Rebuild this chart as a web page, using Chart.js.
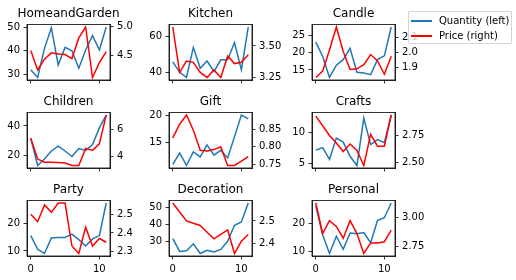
<!DOCTYPE html>
<html><head><meta charset="utf-8">
<script src="https://cdn.jsdelivr.net/npm/chart.js@4"></script>
<style>
body{margin:0;width:516px;height:280px;background:#fff;position:relative;overflow:hidden;font-family:"DejaVu Sans",sans-serif;}
canvas{position:absolute;}
.title{position:absolute;font-size:12px;line-height:12px;text-align:center;white-space:nowrap;color:#000;width:160px;}
#legend{position:absolute;left:408px;top:11px;width:104px;height:33px;box-sizing:border-box;border:1px solid rgba(204,204,204,0.8);border-radius:2px;background:rgba(255,255,255,0.8);z-index:10;font-size:10px;}
.lg-line{position:absolute;left:2px;width:21px;height:1.5px;}
.lg-text{position:absolute;left:30px;line-height:10px;white-space:nowrap;color:#000;}
</style></head>
<body>
<div id="legend">
  <div class="lg-line" style="top:8px;background:#1f77b4"></div><div class="lg-text" style="top:4px">Quantity (left)</div>
  <div class="lg-line" style="top:23px;background:#ff0000"></div><div class="lg-text" style="top:19px">Price (right)</div>
</div>
<script>
const categories = ["HomeandGarden","Kitchen","Candle","Children","Gift","Crafts","Party","Decoration","Personal"];
const xIndex = [0,1,2,3,4,5,6,7,8,9,10,11];
const xTickValues = [0,10];
const seriesNames = ["Quantity (left)","Price (right)"];

const qtyHomeandGarden = [32.0,28.7,41.0,49.7,34.0,41.4,40.0,32.6,40.3,46.4,40.3,50.0];
const priceHomeandGarden = [4.58,4.24,4.43,4.54,4.52,4.51,4.44,4.80,4.99,4.11,4.37,4.56];
const qtyKitchen = [46.0,40.4,37.4,54.0,42.5,46.5,40.7,47.2,47.2,56.7,41.6,65.3];
const priceKitchen = [3.65,3.29,3.38,3.37,3.29,3.25,3.31,3.25,3.42,3.36,3.37,3.43];
const qtyCandle = [23.1,19.0,12.8,16.4,18.0,21.3,14.3,14.1,13.6,18.0,19.1,27.5];
const priceCandle = [1.837,1.878,2.016,2.165,2.006,1.889,1.893,1.92,1.986,1.944,1.858,1.975];
const qtyChildren = [31.6,13.0,17.4,22.9,26.2,22.9,19.1,24.6,23.3,27.3,38.7,47.5];
const priceChildren = [5.35,3.78,3.54,3.54,3.52,3.49,3.30,3.30,4.58,4.43,4.92,7.08];
const qtyGift = [10.9,13.0,10.7,13.2,12.3,14.5,12.6,13.5,12.1,16.0,20.0,19.3];
const priceGift = [0.825,0.864,0.89,0.847,0.79,0.788,0.792,0.80,0.747,0.747,0.759,0.772];
const qtyCrafts = [7.1,7.5,5.6,9.05,8.4,6.1,4.6,12.3,8.0,8.8,8.3,12.8];
const priceCrafts = [2.93,2.84,2.75,2.68,2.60,2.67,2.61,2.47,2.76,2.65,2.65,2.94];
const qtyParty = [15.6,10.6,9.1,14.7,14.9,14.9,16.1,14.1,11.8,14.4,15.6,27.4];
const priceParty = [2.50,2.46,2.55,2.51,2.56,2.56,2.33,2.29,2.43,2.33,2.37,2.35];
const qtyDecoration = [31.5,23.9,24.3,28.4,22.7,24.6,23.6,25.1,29.9,39.4,41.3,52.5];
const priceDecoration = [2.58,2.54,2.50,2.49,2.48,2.45,2.42,2.44,2.46,2.355,2.41,2.44];
const qtyPersonal = [26.25,16.0,9.4,15.5,10.9,16.6,16.4,16.8,13.2,21.1,22.0,27.2];
const pricePersonal = [3.12,2.86,2.97,2.92,2.82,2.97,2.86,2.69,2.78,2.78,2.79,2.89];

const leftTicksHomeandGarden = ["30","40","50"];   const rightTicksHomeandGarden = ["4.5","5.0"];
const leftTicksKitchen = ["40","60"];              const rightTicksKitchen = ["3.25","3.50"];
const leftTicksCandle = ["15","20","25"];          const rightTicksCandle = ["1.9","2.0","2.1"];
const leftTicksChildren = ["20","40"];             const rightTicksChildren = ["4","6"];
const leftTicksGift = ["15","20"];                 const rightTicksGift = ["0.75","0.80","0.85"];
const leftTicksCrafts = ["5","10"];                const rightTicksCrafts = ["2.50","2.75"];
const leftTicksParty = ["10","20"];                const rightTicksParty = ["2.3","2.4","2.5"];
const leftTicksDecoration = ["30","40","50"];      const rightTicksDecoration = ["2.4","2.5"];
const leftTicksPersonal = ["10","20"];             const rightTicksPersonal = ["2.75","3.00"];

const panels = [
  [qtyHomeandGarden, priceHomeandGarden, leftTicksHomeandGarden, rightTicksHomeandGarden],
  [qtyKitchen, priceKitchen, leftTicksKitchen, rightTicksKitchen],
  [qtyCandle, priceCandle, leftTicksCandle, rightTicksCandle],
  [qtyChildren, priceChildren, leftTicksChildren, rightTicksChildren],
  [qtyGift, priceGift, leftTicksGift, rightTicksGift],
  [qtyCrafts, priceCrafts, leftTicksCrafts, rightTicksCrafts],
  [qtyParty, priceParty, leftTicksParty, rightTicksParty],
  [qtyDecoration, priceDecoration, leftTicksDecoration, rightTicksDecoration],
  [qtyPersonal, pricePersonal, leftTicksPersonal, rightTicksPersonal]
];

// layout
const colLeft = [27, 169, 312];
const rowTop = [23, 111, 199];
const PW = 83, PH = 57;
const LM = 30, RM = 44, TM = 8, BM = 22;

Chart.defaults.font.family = '"DejaVu Sans", sans-serif';
Chart.defaults.font.size = 10;
Chart.defaults.color = '#000';
Chart.defaults.animation = false;

const boxPlugin = {
  id: 'box',
  afterDraw(chart) {
    const a = chart.chartArea, ctx = chart.ctx;
    ctx.save();
    ctx.strokeStyle = '#000';
    ctx.lineWidth = 0.8;
    ctx.strokeRect(a.left, a.top, a.right - a.left, a.bottom - a.top);
    ctx.restore();
  }
};

function padRange(arr) {
  const mn = Math.min(...arr), mx = Math.max(...arr);
  const m = (mx - mn) * 0.05;
  return [mn - m, mx + m];
}

function yAxis(pos, labels, range, width) {
  const vals = labels.map(parseFloat);
  return {
    type: 'linear', position: pos, min: range[0], max: range[1],
    afterBuildTicks: s => { s.ticks = vals.map(v => ({value: v})); },
    afterFit: s => { s.width = width; },
    ticks: { padding: 3.5, color: '#000', font: {size: 10}, autoSkip: false,
      callback: (v) => { const i = vals.indexOf(v); return i >= 0 ? labels[i] : ''; } },
    grid: { drawOnChartArea: false, drawTicks: true, tickLength: 3.5, color: '#000', lineWidth: 0.8 },
    border: { display: true, color: '#000', width: 0.8 }
  };
}

const xMin = Math.min(...xIndex), xMax = Math.max(...xIndex);
const xm = (xMax - xMin) * 0.05;

panels.forEach((p, k) => {
  const r = Math.floor(k / 3), c = k % 3;
  const [qty, price, lt, rt] = p;
  const cv = document.createElement('canvas');
  const w = PW + LM + RM, h = PH + TM + BM;
  cv.width = w; cv.height = h;
  cv.style.width = w + 'px'; cv.style.height = h + 'px';
  cv.style.left = (colLeft[c] - LM) + 'px';
  cv.style.top = (rowTop[r] - TM) + 'px';
  document.body.appendChild(cv);

  const t = document.createElement('div');
  t.className = 'title';
  t.textContent = categories[k];
  t.style.left = (colLeft[c] + PW / 2 - 80) + 'px';
  t.style.top = (rowTop[r] - 16.5) + 'px';
  document.body.appendChild(t);

  new Chart(cv, {
    type: 'line',
    data: {
      datasets: [
        { label: seriesNames[1], data: xIndex.map((x, i) => ({x, y: price[i]})), yAxisID: 'y2',
          borderColor: '#ff0000', borderWidth: 1.5, pointRadius: 0, tension: 0, fill: false, order: 0 },
        { label: seriesNames[0], data: xIndex.map((x, i) => ({x, y: qty[i]})), yAxisID: 'y',
          borderColor: '#1f77b4', borderWidth: 1.5, pointRadius: 0, tension: 0, fill: false, order: 1 }
      ]
    },
    options: {
      responsive: false, maintainAspectRatio: false, devicePixelRatio: 1,
      layout: { padding: { top: TM, left: 0, right: 0, bottom: 0 } },
      plugins: { legend: { display: false }, tooltip: { enabled: false }, title: { display: false } },
      scales: {
        x: {
          type: 'linear', min: xMin - xm, max: xMax + xm,
          afterBuildTicks: s => { s.ticks = xTickValues.map(v => ({value: v})); },
          afterFit: s => { s.height = BM; },
          ticks: { display: r === 2, padding: 3.5, color: '#000', font: {size: 10}, maxRotation: 0, autoSkip: false,
            callback: v => String(v) },
          grid: { drawOnChartArea: false, drawTicks: true, tickLength: 3.5, color: '#000', lineWidth: 0.8 },
          border: { display: true, color: '#000', width: 0.8 }
        },
        y: yAxis('left', lt, padRange(qty), LM),
        y2: yAxis('right', rt, padRange(price), RM)
      }
    },
    plugins: [boxPlugin]
  });
});
</script>
</body></html>
